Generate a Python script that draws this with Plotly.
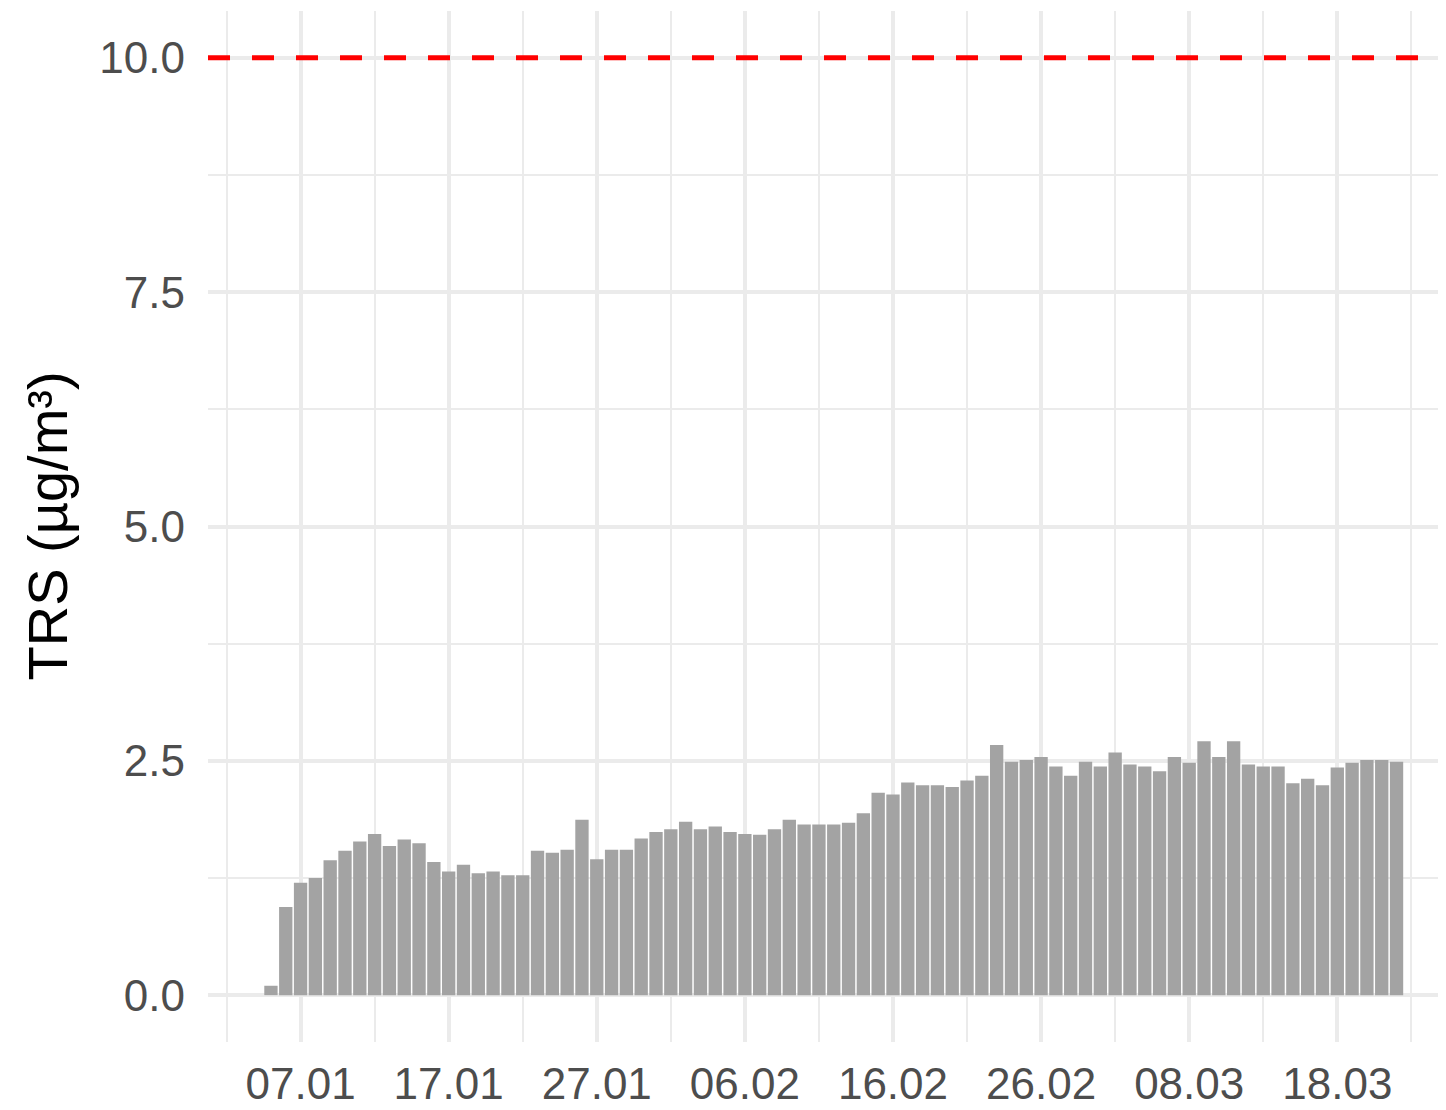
import plotly.graph_objects as go
import pandas as pd

# Daily TRS values, 05.01.2023 - 22.03.2023
start_date = "2023-01-05"
trs_values = [
    0.10, 0.94, 1.20, 1.25, 1.44, 1.54, 1.64, 1.72, 1.59, 1.66,
    1.62, 1.42, 1.32, 1.39, 1.30, 1.32, 1.28, 1.28, 1.54, 1.52,
    1.55, 1.87, 1.45, 1.55, 1.55, 1.67, 1.74, 1.77, 1.85, 1.77,
    1.80, 1.74, 1.72, 1.71, 1.77, 1.87, 1.82, 1.82, 1.82, 1.84,
    1.94, 2.16, 2.14, 2.27, 2.24, 2.24, 2.22, 2.29, 2.34, 2.67,
    2.49, 2.51, 2.54, 2.44, 2.34, 2.49, 2.44, 2.59, 2.46, 2.44,
    2.39, 2.54, 2.48, 2.71, 2.54, 2.71, 2.46, 2.44, 2.44, 2.26,
    2.31, 2.24, 2.43, 2.48, 2.51, 2.51, 2.49,
]
dates = pd.date_range(start_date, periods=len(trs_values), freq="D")

limit_value = 10.0

x_tick_dates = ["2023-01-07", "2023-01-17", "2023-01-27", "2023-02-06",
                "2023-02-16", "2023-02-26", "2023-03-08", "2023-03-18"]
x_tick_labels = ["07.01", "17.01", "27.01", "06.02", "16.02", "26.02", "08.03", "18.03"]
x_minor_dates = ["2023-01-02", "2023-01-12", "2023-01-22", "2023-02-01", "2023-02-11",
                 "2023-02-21", "2023-03-03", "2023-03-13", "2023-03-23"]
y_ticks = [0, 2.5, 5, 7.5, 10]
y_tick_labels = ["0.0", "2.5", "5.0", "7.5", "10.0"]
y_minor = [1.25, 3.75, 6.25, 8.75]

font_family = "Liberation Sans, Arial, sans-serif"
grid_color = "#EBEBEB"

fig = go.Figure()
fig.add_trace(go.Bar(
    x=dates, y=trs_values,
    marker=dict(color="#A3A3A3", line=dict(width=0)),
    showlegend=False,
))

fig.add_shape(type="line", xref="paper", yref="y", x0=0, x1=1,
              y0=limit_value, y1=limit_value,
              line=dict(color="#FF0000", width=5, dash="22px,22px"))

fig.update_layout(
    width=1446, height=1102,
    margin=dict(l=200, r=0, t=3, b=68, autoexpand=False),
    paper_bgcolor="white", plot_bgcolor="white",
    bargap=0.1,
    font=dict(family=font_family),
    annotations=[dict(
        text="TRS (µg/m³)", xref="paper", yref="paper",
        x=-161 / 1246, y=0.5, xanchor="center", yanchor="middle",
        textangle=-90, showarrow=False,
        font=dict(size=56, color="black", family=font_family),
    )],
)

fig.update_xaxes(
    type="date",
    range=["2022-12-31 18:00", "2023-03-25 21:07"],
    tickmode="array", tickvals=x_tick_dates, ticktext=x_tick_labels,
    tickfont=dict(size=44, color="#4D4D4D"),
    showgrid=True, gridcolor=grid_color, gridwidth=4,
    minor=dict(tickmode="array", tickvals=x_minor_dates, showgrid=True,
               gridcolor=grid_color, gridwidth=2),
    zeroline=False, showline=False, ticks="",
    ticklabelstandoff=12,
)
fig.update_yaxes(
    range=[-0.5, 10.5],
    tickmode="array", tickvals=y_ticks, ticktext=y_tick_labels,
    tickfont=dict(size=44, color="#4D4D4D"),
    showgrid=True, gridcolor=grid_color, gridwidth=4,
    minor=dict(tickmode="array", tickvals=y_minor, showgrid=True,
               gridcolor=grid_color, gridwidth=2),
    zeroline=False, showline=False, ticks="",
    ticklabelstandoff=22,
)

fig.write_html("out.html")
